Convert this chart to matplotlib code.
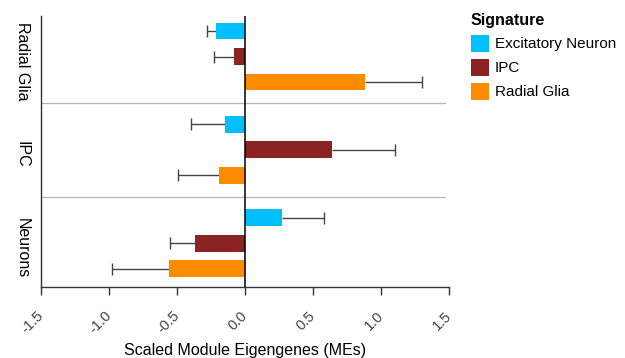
import matplotlib.pyplot as plt
import numpy as np

plt.rcParams['font.family'] = ['Liberation Sans', 'DejaVu Sans']

groups = ['Radial Glia', 'IPC', 'Neurons']
signatures = ['Excitatory Neuron', 'IPC', 'Radial Glia']
colors = ['#00BFFF', '#8B2323', '#FF8C00']

# values per signature, in group order (Radial Glia, IPC, Neurons)
means = {
    'Excitatory Neuron': [-0.21, -0.15, 0.27],
    'IPC': [-0.08, 0.64, -0.37],
    'Radial Glia': [0.88, -0.19, -0.56],
}
errors = {
    'Excitatory Neuron': [0.07, 0.25, 0.31],
    'IPC': [0.15, 0.46, 0.18],
    'Radial Glia': [0.42, 0.30, 0.42],
}

fig = plt.figure(figsize=(6.25, 3.58), dpi=100)
ax = fig.add_axes([0.0656, 0.198, 0.6528, 0.757])

offsets = [-0.273, 0.0, 0.273]
bar_h = 0.18
centers = np.arange(len(groups))

for sig, col, off in zip(signatures, colors, offsets):
    vals = np.array(means[sig])
    errs = np.array(errors[sig])
    y = centers + off
    ax.barh(y, vals, height=bar_h, color=col, label=sig, zorder=2)
    # one-sided error bars, pointing away from zero
    ends = vals + np.sign(vals) * errs
    ax.hlines(y, vals, ends, color='#444444', lw=1, zorder=1)
    ax.plot(ends, y, ls='none', marker='|', ms=8, mew=1, color='#444444', zorder=1)

# separators between groups
for s in [0.5, 1.5]:
    ax.axhline(s, xmax=0.99, color='#b5b5b5', lw=0.9, zorder=0)
ax.axvline(0, color='black', lw=1.1, zorder=3)

ax.set_xlim(-1.5, 1.5)
ax.set_ylim(2.47, -0.433)
ax.set_xticks([-1.5, -1.0, -0.5, 0.0, 0.5, 1.0, 1.5])
ax.set_xticklabels(['-1.5', '-1.0', '-0.5', '0.0', '0.5', '1.0', '1.5'],
                   rotation=45, ha='right', va='center', rotation_mode='anchor',
                   fontsize=10.5, color='#444444')
ax.tick_params(axis='x', direction='out', length=6, width=1, color='#333333', pad=13)
ax.set_yticks(centers + 0.05)
ax.set_yticklabels(groups, rotation=270, va='center', fontsize=11.5)
ax.tick_params(axis='y', length=0, pad=8)

for side in ['top', 'right']:
    ax.spines[side].set_visible(False)
ax.spines['left'].set_color('#333333')
ax.spines['bottom'].set_color('#333333')
ax.spines['left'].set_linewidth(1)
ax.spines['bottom'].set_linewidth(1)

ax.set_xlabel('Scaled Module Eigengenes (MEs)', fontsize=11.5, labelpad=5)

leg = ax.legend(title='Signature', loc='upper left', bbox_to_anchor=(1.038, 1.035),
                frameon=False, fontsize=11, title_fontsize=11.5,
                handlelength=1.2, handleheight=1.35, handletextpad=0.4,
                labelspacing=0.45, borderaxespad=0)
leg.get_title().set_fontweight('bold')
leg._legend_box.align = 'left'

fig.savefig('out.png', dpi=100)
